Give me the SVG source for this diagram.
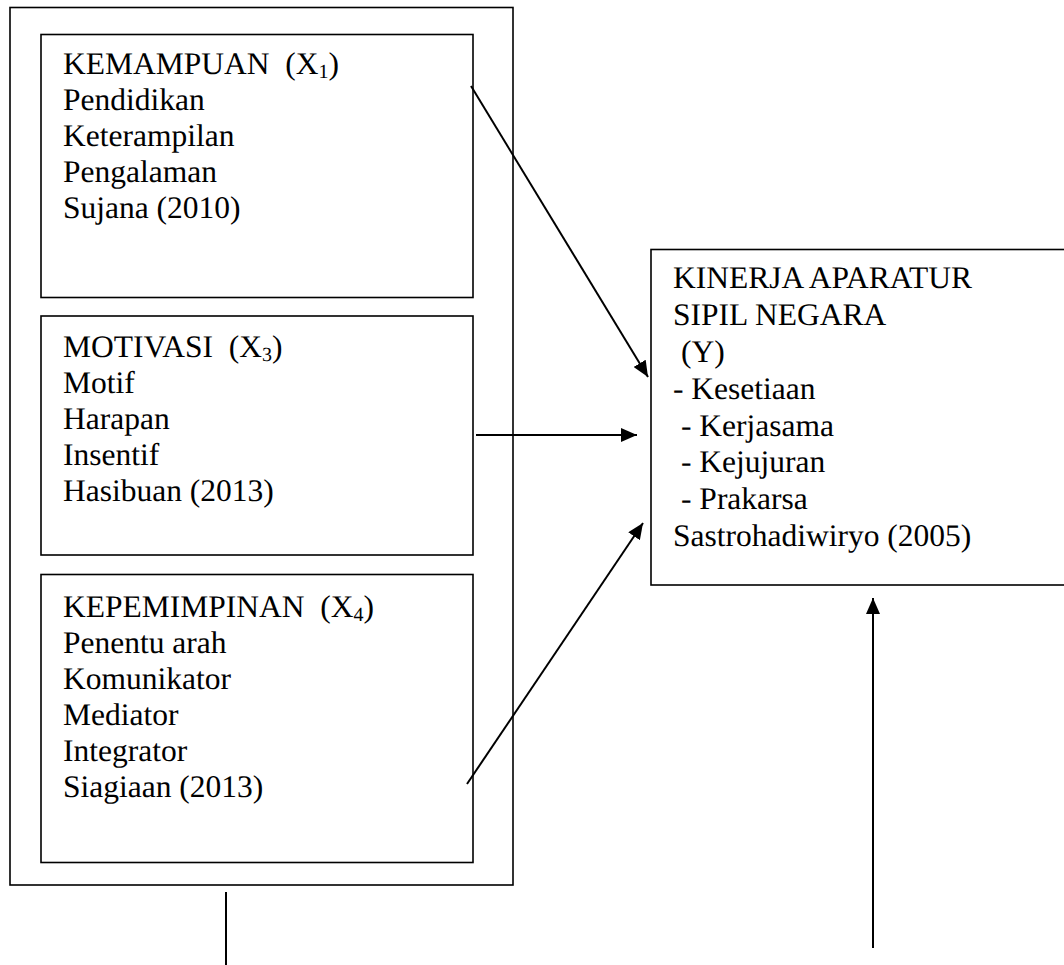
<svg xmlns="http://www.w3.org/2000/svg" width="1064" height="965" viewBox="0 0 1064 965" text-rendering="geometricPrecision">
<style>
.box{fill:none;stroke:#000;stroke-width:1.6}
.c{stroke:#000;stroke-width:2;fill:none}
</style>
<defs>
<marker id="ah" viewBox="0 0 16 14" markerWidth="16" markerHeight="14" refX="16" refY="7" orient="auto" markerUnits="userSpaceOnUse">
<path d="M0,0 L16,7 L0,14 Z" fill="#000"/>
</marker>
</defs>
<rect width="1064" height="965" fill="#fff"/>
<g id="group-x">
<rect class="box" x="10" y="7.5" width="503" height="877.5"/>
</g>
<g id="node-x1">
<rect class="box" x="41" y="34.5" width="432" height="263"/>
<text x="63" y="74" font-family="Liberation Serif" font-size="31.5" xml:space="preserve">KEMAMPUAN  (X<tspan font-size="20" dy="4">1</tspan><tspan dy="-4">)</tspan></text>
<text x="63" y="110" font-family="Liberation Serif" font-size="31.5">Pendidikan</text>
<text x="63" y="146" font-family="Liberation Serif" font-size="31.5">Keterampilan</text>
<text x="63" y="182" font-family="Liberation Serif" font-size="31.5">Pengalaman</text>
<text x="63" y="218" font-family="Liberation Serif" font-size="31.5">Sujana (2010)</text>
</g>
<g id="node-x3">
<rect class="box" x="41" y="316" width="432" height="239"/>
<text x="63" y="357" font-family="Liberation Serif" font-size="31.5" xml:space="preserve">MOTIVASI  (X<tspan font-size="20" dy="4">3</tspan><tspan dy="-4">)</tspan></text>
<text x="63" y="393" font-family="Liberation Serif" font-size="31.5">Motif</text>
<text x="63" y="429" font-family="Liberation Serif" font-size="31.5">Harapan</text>
<text x="63" y="465" font-family="Liberation Serif" font-size="31.5">Insentif</text>
<text x="63" y="501" font-family="Liberation Serif" font-size="31.5">Hasibuan (2013)</text>
</g>
<g id="node-x4">
<rect class="box" x="41" y="574.5" width="432" height="288"/>
<text x="63" y="617" font-family="Liberation Serif" font-size="31.5" xml:space="preserve">KEPEMIMPINAN  (X<tspan font-size="20" dy="4">4</tspan><tspan dy="-4">)</tspan></text>
<text x="63" y="653" font-family="Liberation Serif" font-size="31.5">Penentu arah</text>
<text x="63" y="689" font-family="Liberation Serif" font-size="31.5">Komunikator</text>
<text x="63" y="725" font-family="Liberation Serif" font-size="31.5">Mediator</text>
<text x="63" y="761" font-family="Liberation Serif" font-size="31.5">Integrator</text>
<text x="63" y="797" font-family="Liberation Serif" font-size="31.5">Siagiaan (2013)</text>
</g>
<g id="node-y">
<rect class="box" x="651" y="249.5" width="430" height="335.5"/>
<text x="673" y="288" font-family="Liberation Serif" font-size="31.5">KINERJA APARATUR</text>
<text x="673" y="325" font-family="Liberation Serif" font-size="31.5">SIPIL NEGARA</text>
<text x="681" y="362" font-family="Liberation Serif" font-size="31.5">(Y)</text>
<text x="673" y="399" font-family="Liberation Serif" font-size="31.5">- Kesetiaan</text>
<text x="681" y="436" font-family="Liberation Serif" font-size="31.5">- Kerjasama</text>
<text x="681" y="472" font-family="Liberation Serif" font-size="31.5">- Kejujuran</text>
<text x="681" y="509" font-family="Liberation Serif" font-size="31.5">- Prakarsa</text>
<text x="673" y="546" font-family="Liberation Serif" font-size="31.5">Sastrohadiwiryo (2005)</text>
</g>
<g id="connectors">
<line class="c" x1="471" y1="86" x2="648" y2="377" marker-end="url(#ah)"/>
<line class="c" x1="476" y1="435" x2="637" y2="435" marker-end="url(#ah)"/>
<line class="c" x1="467" y1="784" x2="643" y2="523" marker-end="url(#ah)"/>
<line class="c" x1="873" y1="948" x2="873" y2="598" marker-end="url(#ah)"/>
<line class="c" x1="226" y1="892" x2="226" y2="965" stroke-width="1.5"/>
</g>
</svg>
